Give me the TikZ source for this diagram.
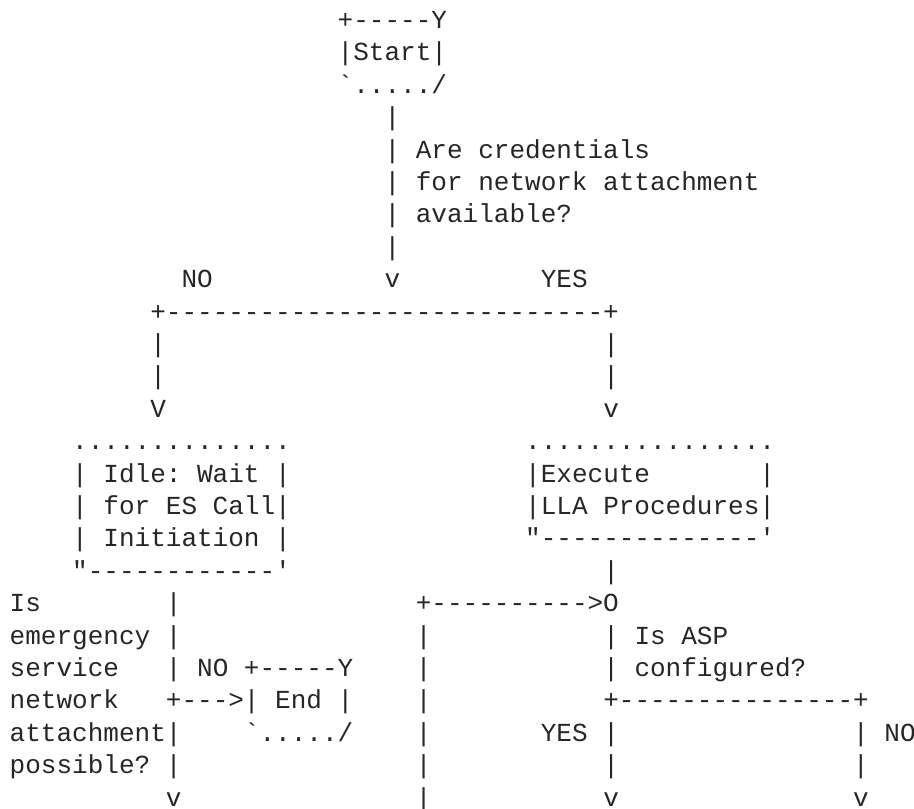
\documentclass[tikz,border=0pt]{standalone}
\usepackage{fontspec}
\setmonofont{Liberation Mono}
\usepackage{tikz}
\definecolor{ink}{HTML}{262626}
\tikzstyle{txt}=[anchor=base west, inner sep=0pt, text=ink, font=\ttfamily\fontsize{26.03pt}{32.4pt}\selectfont]

\begin{document}
\begin{tikzpicture}[x=15.62pt, y=-32.4pt]
      \useasboundingbox (-9.5pt,-3.9pt) rectangle (904.5pt,-812.9pt);

      % start box and first question
      \node [txt] (startT) at (21,1) {+-----Y};
      \node [txt] (start) at (21,2) {|Start|};
      \node [txt] (startB) at (21,3) {`...../};
      \node [txt] (q1a) at (24,4) {|};
      \node [txt] (q1b) at (24,5) {| Are credentials};
      \node [txt] (q1c) at (24,6) {| for network attachment};
      \node [txt] (q1d) at (24,7) {| available?};
      \node [txt] (q1e) at (24,8) {|};

      \node [txt] (no1) at (11,9) {NO};
      \node [txt] (q1v) at (24,9) {v};
      \node [txt] (yes1) at (34,9) {YES};

      % split
      \node [txt] (split) at (9,10) {+----------------------------+};
      \node [txt] (sl1) at (9,11) {|};
      \node [txt] (sr1) at (38,11) {|};
      \node [txt] (sl2) at (9,12) {|};
      \node [txt] (sr2) at (38,12) {|};
      \node [txt] (slv) at (9,13) {V};
      \node [txt] (srv) at (38,13) {v};

      % idle box
      \node [txt] (idleT) at (4,14) {..............};
      \node [txt] (idle1) at (4,15) {| Idle: Wait |};
      \node [txt] (idle2) at (4,16) {| for ES Call|};
      \node [txt] (idle3) at (4,17) {| Initiation |};
      \node [txt] (idleB) at (4,18) {"------------'};

      % lla box
      \node [txt] (llaT) at (33,14) {................};
      \node [txt] (lla1) at (33,15) {|Execute};
      \node [txt] (lla1r) at (48,15) {|};
      \node [txt] (lla2) at (33,16) {|LLA Procedures|};
      \node [txt] (llaB) at (33,17) {"--------------'};
      \node [txt] (llav) at (38,18) {|};

      % second question
      \node [txt] (q2a) at (0,19) {Is};
      \node [txt] (q2b) at (0,20) {emergency |};
      \node [txt] (q2c) at (0,21) {service};
      \node [txt] (q2d) at (0,22) {network};
      \node [txt] (q2e) at (0,23) {attachment|};
      \node [txt] (q2f) at (0,24) {possible? |};
      \node [txt] (i1) at (10,19) {|};
      \node [txt] (no2) at (10,21) {| NO +-----Y};
      \node [txt] (toend) at (10,22) {+--->| End |};
      \node [txt] (endB) at (15,23) {`...../};
      \node [txt] (iv) at (10,25) {v};

      % loop back
      \node [txt] (join) at (26,19) {+---------->O};
      \node [txt] (b1) at (26,20) {|};
      \node [txt] (b2) at (26,21) {|};
      \node [txt] (b3) at (26,22) {|};
      \node [txt] (b4) at (26,23) {|};
      \node [txt] (b5) at (26,24) {|};
      \node [txt] (b6) at (26,25) {|};

      % third question
      \node [txt] (q3a) at (38,20) {| Is ASP};
      \node [txt] (q3b) at (38,21) {| configured?};
      \node [txt] (split2) at (38,22) {+---------------+};
      \node [txt] (yes3) at (34,23) {YES |};
      \node [txt] (no3) at (54,23) {| NO};
      \node [txt] (y1) at (38,24) {|};
      \node [txt] (n1) at (54,24) {|};
      \node [txt] (yv) at (38,25) {v};
      \node [txt] (nv) at (54,25) {v};
\end{tikzpicture}
\end{document}
